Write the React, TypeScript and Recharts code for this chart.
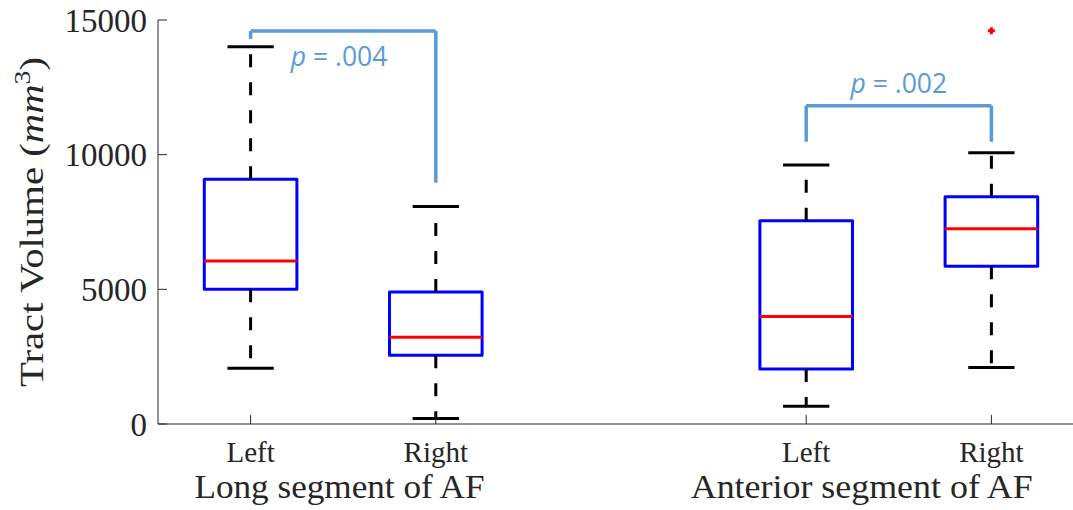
import React from 'react';
import {
  ComposedChart,
  XAxis,
  YAxis,
  ReferenceArea,
  ReferenceLine,
  ReferenceDot,
  Scatter,
  Label,
} from 'recharts';

// ---- data ----
const positions = [1, 2, 4, 5];
const sideLabels = ['Left', 'Right', 'Left', 'Right'];
const lowerWhisker = [2070, 200, 660, 2100];
const q1 = [5000, 2550, 2040, 5860];
const median = [6050, 3220, 3990, 7250];
const q3 = [9090, 4900, 7550, 8440];
const upperWhisker = [14010, 8080, 9620, 10075];
const outliers = [{ x: 5, y: 14600 }];

const groupNames = ['Long segment of AF', 'Anterior segment of AF'];
const groupCenters = [1.48, 4.3];
const groupWidths = [290, 342];

const yTicks = [0, 5000, 10000, 15000];

const bracketFrom = [1, 4];
const bracketTo = [2, 5];
const bracketTop = [14590, 11820];
const bracketLeftEnd = [14300, 10480];
const bracketRightEnd = [8960, 10480];
const pValues = ['.004', '.002'];
const pTextX = [1.2165, 4.5];
const pTextY = [13290, 12280];
const pTextAnchor = ['start', 'middle'];

// ---- style ----
const BOX_HALF = 0.25;
const CAP_HALF = 0.125;
const AXIS = '#262626';
const BOX = '#0000FF';
const MED = '#FF0000';
const BRACKET = '#5B9BD5';
const SERIF = '"Liberation Serif", "Times New Roman", serif';
const SANS = '"Open Sans", "Noto Sans", sans-serif';

const XTick = (props: any) => {
  const { x, y, payload } = props;
  const idx = positions.indexOf(payload.value);
  return (
    <text
      x={x}
      y={y + 38}
      textAnchor="middle"
      fontFamily={SERIF}
      fontSize={29}
      fill={AXIS}
    >
      {sideLabels[idx]}
    </text>
  );
};

const renderGroupLabels = (props: any) => {
  const vb = props.viewBox || { x: 158, y: 424, width: 926, height: 86 };
  return (
    <g>
      {groupNames.map((name, i) => (
        <text
          key={name}
          x={vb.x + ((groupCenters[i] - 0.5) / 5) * vb.width}
          y={vb.y + 74}
          textAnchor="middle"
          fontFamily={SERIF}
          fontSize={33}
          fill={AXIS}
          textLength={groupWidths[i]}
          lengthAdjust="spacingAndGlyphs"
        >
          {name}
        </text>
      ))}
    </g>
  );
};

const renderYLabel = (props: any) => {
  const vb = props.viewBox || { x: 0, y: 20, width: 158, height: 404 };
  const cy = vb.y + vb.height / 2;
  const cx = 43;
  return (
    <text
      x={cx}
      y={cy}
      transform={`rotate(-90 ${cx} ${cy})`}
      textAnchor="middle"
      fontFamily={SERIF}
      fontSize={34}
      fill={AXIS}
      textLength={330}
      lengthAdjust="spacingAndGlyphs"
    >
      Tract Volume (<tspan fontStyle="italic">mm</tspan>
      <tspan dy={-13} fontSize={23}>3</tspan>
      <tspan dy={13}>)</tspan>
    </text>
  );
};

const PlusShape = (props: any) => {
  const { cx, cy } = props;
  return (
    <g>
      <line x1={cx - 3.5} x2={cx + 3.5} y1={cy} y2={cy} stroke={MED} strokeWidth={3} />
      <line x1={cx} x2={cx} y1={cy - 3.5} y2={cy + 3.5} stroke={MED} strokeWidth={3} />
    </g>
  );
};

const makePText = (i: number) => (props: any) => (
  <text
    x={props.cx}
    y={props.cy}
    textAnchor={pTextAnchor[i] as any}
    fontFamily={SANS}
    fontSize={26.5}
    fill={BRACKET}
  >
    <tspan fontStyle="italic">p</tspan> = {pValues[i]}
  </text>
);

export default function App() {
  return (
    <div
      style={{
        position: 'absolute',
        left: 0,
        top: 0,
        width: 1073,
        height: 510,
        overflow: 'hidden',
        background: '#fff',
      }}
    >
      <ComposedChart
        width={1084}
        height={510}
        margin={{ top: 20, right: 0, bottom: 0, left: 0 }}
      >
        <XAxis
          dataKey="x"
          type="number"
          domain={[0.5, 5.5]}
          ticks={positions}
          interval={0}
          allowDataOverflow
          height={86}
          tickSize={-9}
          tickMargin={9}
          axisLine={{ stroke: AXIS, strokeWidth: 1 }}
          tickLine={{ stroke: AXIS, strokeWidth: 1 }}
          tick={<XTick />}
          label={<Label content={renderGroupLabels} />}
        />
        <XAxis
          xAxisId="top"
          orientation="top"
          type="number"
          domain={[0.5, 5.5]}
          ticks={positions}
          interval={0}
          allowDataOverflow
          height={0}
          tickSize={-9}
          axisLine={{ stroke: AXIS, strokeWidth: 1 }}
          tickLine={{ stroke: AXIS, strokeWidth: 1 }}
          tick={false}
        />
        <YAxis
          type="number"
          domain={[0, 15000]}
          ticks={yTicks}
          interval={0}
          allowDataOverflow
          width={158}
          tickSize={-9}
          tickMargin={20}
          axisLine={{ stroke: AXIS, strokeWidth: 1 }}
          tickLine={{ stroke: AXIS, strokeWidth: 1 }}
          tick={{ fill: AXIS, fontSize: 33, fontFamily: SERIF }}
          label={<Label content={renderYLabel} />}
        />

        {positions.map((p, i) => (
          <ReferenceLine
            key={`wu${i}`}
            segment={[
              { x: p, y: q3[i] },
              { x: p, y: upperWhisker[i] },
            ]}
            stroke="#000"
            strokeWidth={3}
            strokeDasharray="13 15"
          />
        ))}
        {positions.map((p, i) => (
          <ReferenceLine
            key={`wl${i}`}
            segment={[
              { x: p, y: q1[i] },
              { x: p, y: lowerWhisker[i] },
            ]}
            stroke="#000"
            strokeWidth={3}
            strokeDasharray="13 15"
          />
        ))}
        {positions.map((p, i) => (
          <ReferenceLine
            key={`cu${i}`}
            segment={[
              { x: p - CAP_HALF, y: upperWhisker[i] },
              { x: p + CAP_HALF, y: upperWhisker[i] },
            ]}
            stroke="#000"
            strokeWidth={3}
          />
        ))}
        {positions.map((p, i) => (
          <ReferenceLine
            key={`cl${i}`}
            segment={[
              { x: p - CAP_HALF, y: lowerWhisker[i] },
              { x: p + CAP_HALF, y: lowerWhisker[i] },
            ]}
            stroke="#000"
            strokeWidth={3}
          />
        ))}
        {positions.map((p, i) => (
          <ReferenceArea
            key={`b${i}`}
            x1={p - BOX_HALF}
            x2={p + BOX_HALF}
            y1={q1[i]}
            y2={q3[i]}
            stroke={BOX}
            strokeWidth={3}
            fill="none"
            fillOpacity={0}
            strokeOpacity={1}
            strokeLinejoin="round"
          />
        ))}
        {positions.map((p, i) => (
          <ReferenceLine
            key={`m${i}`}
            segment={[
              { x: p - BOX_HALF, y: median[i] },
              { x: p + BOX_HALF, y: median[i] },
            ]}
            stroke={MED}
            strokeWidth={3}
          />
        ))}

        {bracketFrom.map((f, i) => (
          <ReferenceLine
            key={`bl${i}`}
            segment={[
              { x: f, y: bracketLeftEnd[i] },
              { x: f, y: bracketTop[i] },
            ]}
            stroke={BRACKET}
            strokeWidth={3.5}
          />
        ))}
        {bracketFrom.map((f, i) => (
          <ReferenceLine
            key={`bt${i}`}
            segment={[
              { x: f, y: bracketTop[i] },
              { x: bracketTo[i], y: bracketTop[i] },
            ]}
            stroke={BRACKET}
            strokeWidth={3.5}
          />
        ))}
        {bracketTo.map((t, i) => (
          <ReferenceLine
            key={`br${i}`}
            segment={[
              { x: t, y: bracketTop[i] },
              { x: t, y: bracketRightEnd[i] },
            ]}
            stroke={BRACKET}
            strokeWidth={3.5}
          />
        ))}
        {pValues.map((v, i) => (
          <ReferenceDot
            key={`pt${i}`}
            x={pTextX[i]}
            y={pTextY[i]}
            r={0}
            shape={makePText(i)}
          />
        ))}

        <Scatter
          data={outliers}
          dataKey="y"
          isAnimationActive={false}
          shape={<PlusShape />}
        />
      </ComposedChart>
    </div>
  );
}
